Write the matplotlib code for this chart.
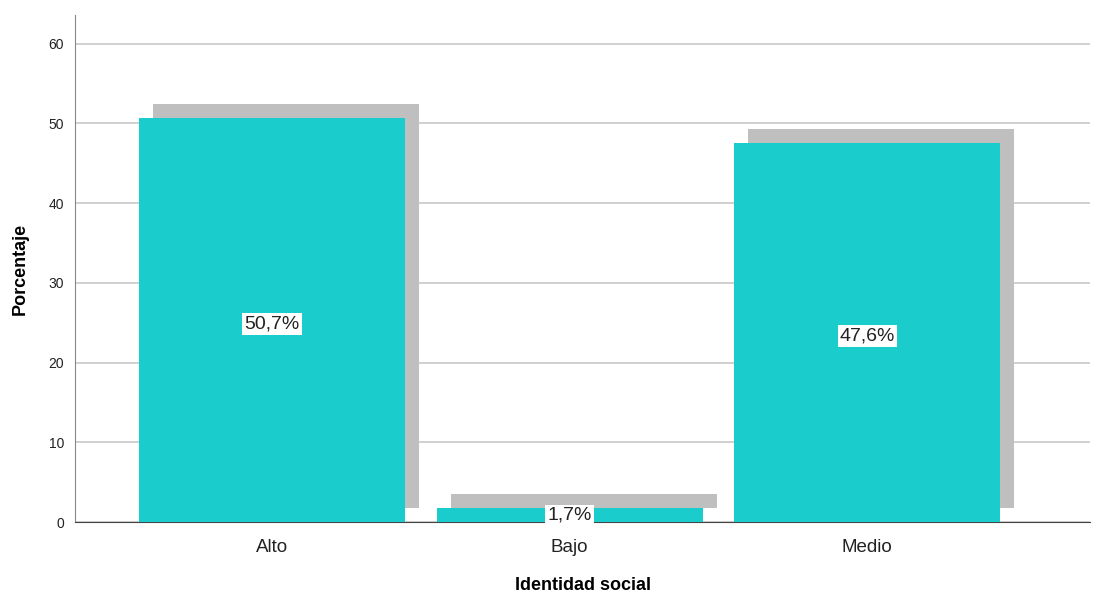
import numpy as np
import matplotlib
matplotlib.use('Agg')
import matplotlib.pyplot as plt

plt.rcParams['font.family'] = ['Liberation Sans', 'DejaVu Sans']

# Data
categories = ['Alto', 'Bajo', 'Medio']
percentages = [50.7, 1.7, 47.6]
labels = ['50,7%', '1,7%', '47,6%']

fig = plt.figure(figsize=(11.05, 5.97), dpi=100)
ax = fig.add_axes([0.0679, 0.1256, 0.9185, 0.8493])

x = np.arange(len(categories))
width = 0.894
shadow_dx = 0.047
shadow_dy = 1.76

# drop shadow behind bars
ax.bar(x + shadow_dx, percentages, width, bottom=shadow_dy, color='#bfbfbf',
       edgecolor='none', zorder=2)
ax.bar(x, percentages, width, color='#1acccc', edgecolor='none', zorder=3)

for xi, val, lab in zip(x, percentages, labels):
    ax.text(xi, val * 0.49, lab, ha='center', va='center', fontsize=14, color='#222222',
            zorder=5, bbox=dict(facecolor='white', edgecolor='none', pad=1.5))

ax.set_xlim(-0.662, 2.748)
ax.set_ylim(0, 63.6)
ax.set_yticks([0, 10, 20, 30, 40, 50, 60])
ax.yaxis.grid(True, color='#c8c8c8', linewidth=1.2, zorder=0)
ax.set_axisbelow(True)

ax.set_xticks(x)
ax.set_xticklabels(categories, fontsize=13.5, color='#222222')
ax.tick_params(axis='x', length=0, pad=12)
ax.tick_params(axis='y', length=0, pad=8, labelsize=10, labelcolor='#222222')

ax.set_ylabel('Porcentaje', fontsize=13, fontweight='bold', labelpad=14)
ax.set_xlabel('Identidad social', fontsize=13, fontweight='bold', labelpad=15)

ax.spines['top'].set_visible(False)
ax.spines['right'].set_visible(False)
ax.spines['left'].set_color('#888888')
ax.spines['bottom'].set_color('#444444')

plt.savefig('out.png', dpi=100)
plt.close()
